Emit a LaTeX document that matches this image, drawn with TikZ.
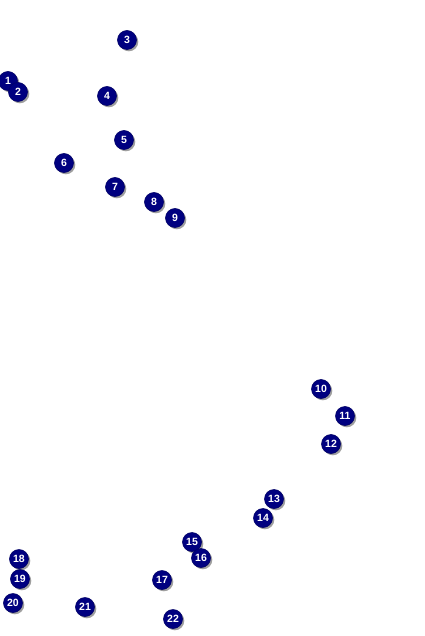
\documentclass[tikz,border=0pt]{standalone}
\usepackage{fontspec}
\setmainfont{Liberation Sans}
\usepackage{xcolor}
\usepackage{tikz}
\usetikzlibrary{shadows}

\definecolor{markblue}{RGB}{0,0,128}

\begin{document}
\begin{tikzpicture}[x=1pt,y=-1pt,
  marker/.style={circle,fill=markblue,draw=markblue!80!black,line width=0.6pt,
    minimum size=19pt,inner sep=0pt,text=white,
    font=\fontsize{10.5}{11}\selectfont\bfseries,
    drop shadow={shadow xshift=1.8pt,shadow yshift=-1.8pt,fill=gray!75,opacity=1}}]
\useasboundingbox (0,0) rectangle (424,636);
% --- upper group ---
\foreach \n/\x/\y in {1/8/81,2/18/92,3/127/40,4/107/96,5/124/140,6/64/163,
  7/115/187,8/154/202,9/175/218}
  \node[marker] (m\n) at (\x,\y) {\n};
% --- right group ---
\foreach \n/\x/\y in {10/321/389,11/345/416,12/331/444,13/274/499,14/263/518}
  \node[marker] (m\n) at (\x,\y) {\n};
% --- lower group ---
\foreach \n/\x/\y in {15/192/542,16/201/558,17/162/580,18/19/559,19/20/579,
  20/13/603,21/85/607,22/173/619}
  \node[marker] (m\n) at (\x,\y) {\n};
\end{tikzpicture}
\end{document}
